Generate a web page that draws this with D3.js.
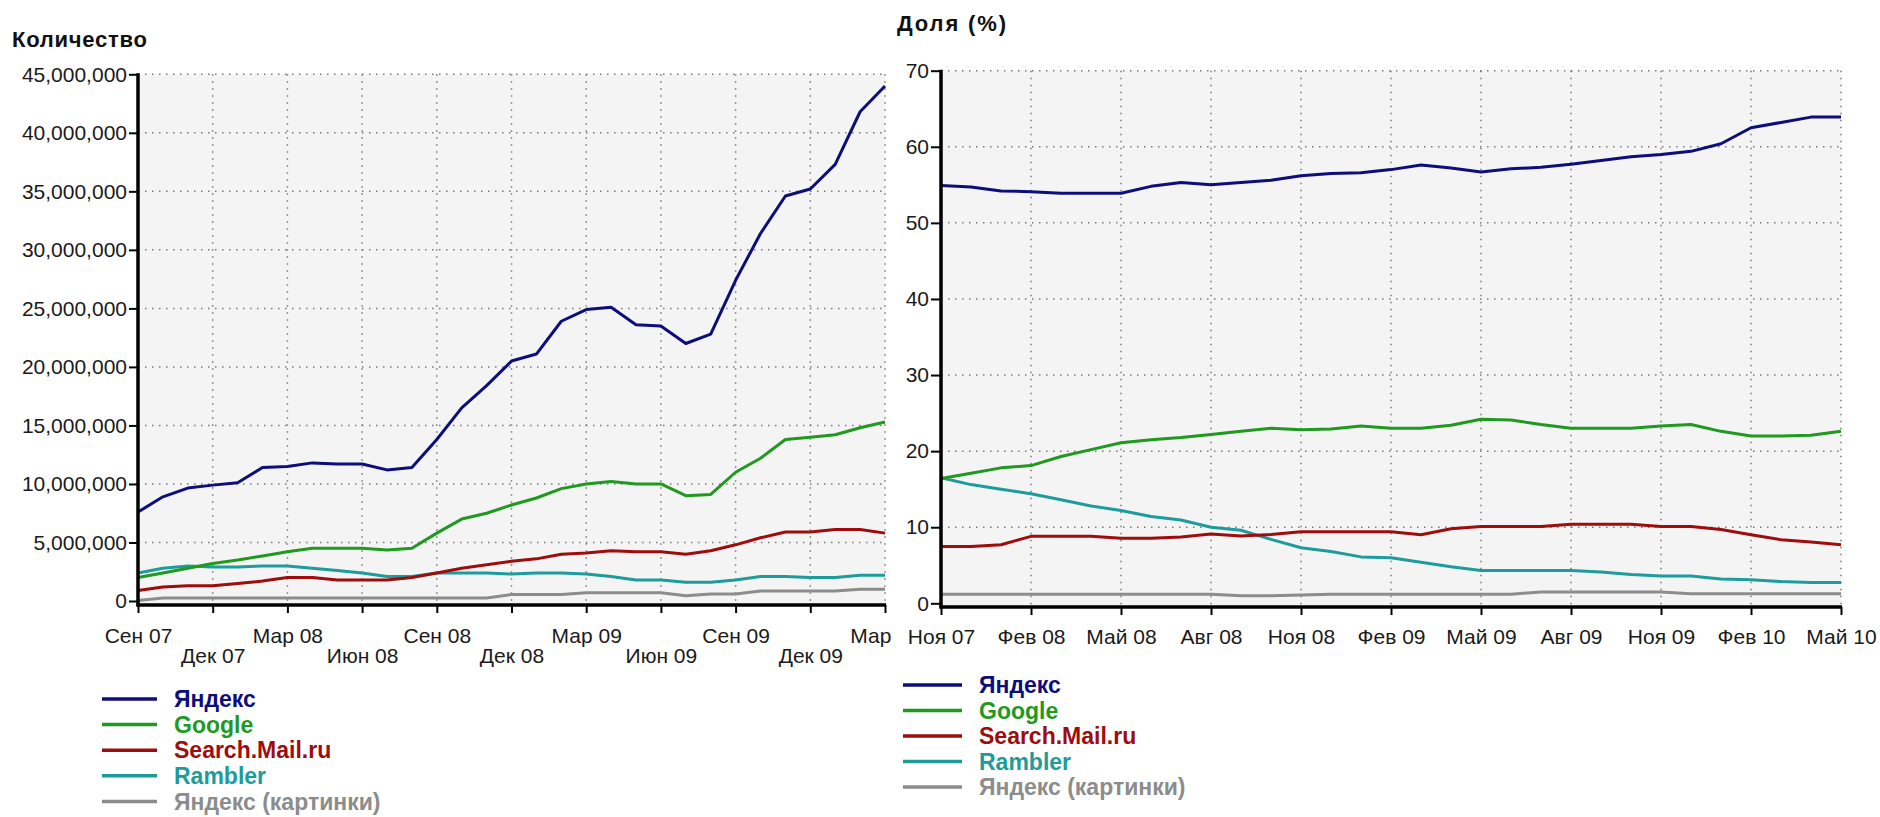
<!DOCTYPE html>
<html>
<head>
<meta charset="utf-8">
<script src="https://cdn.jsdelivr.net/npm/d3@7"></script>
<style>
  html, body { margin: 0; padding: 0; background: #ffffff; }
  svg { display: block; }
  text { font-family: "Liberation Sans", Arial, Helvetica, sans-serif; }
</style>
</head>
<body>
<svg id="chart" width="1880" height="817"></svg>
<script>
// ---------------- DATA ----------------
// Left chart: monthly counts, Sep 2007 – Mar 2010
const leftMonths = ["2007-09","2007-10","2007-11","2007-12","2008-01","2008-02","2008-03","2008-04","2008-05","2008-06","2008-07","2008-08","2008-09","2008-10","2008-11","2008-12","2009-01","2009-02","2009-03","2009-04","2009-05","2009-06","2009-07","2009-08","2009-09","2009-10","2009-11","2009-12","2010-01","2010-02","2010-03"];
const leftYandex  = [7600000,8900000,9650000,9900000,10100000,11400000,11500000,11800000,11700000,11700000,11200000,11400000,13800000,16500000,18400000,20500000,21100000,23900000,24900000,25100000,23600000,23500000,22000000,22800000,27400000,31400000,34600000,35200000,37300000,41800000,44000000];
const leftGoogle  = [2000000,2400000,2800000,3200000,3500000,3850000,4200000,4500000,4500000,4500000,4350000,4500000,5800000,7000000,7500000,8200000,8800000,9600000,10000000,10200000,10000000,10000000,9000000,9100000,11000000,12200000,13800000,14000000,14200000,14800000,15300000];
const leftMail    = [900000,1200000,1300000,1300000,1500000,1700000,2000000,2000000,1800000,1800000,1800000,2000000,2400000,2800000,3100000,3400000,3600000,4000000,4100000,4300000,4200000,4200000,4000000,4300000,4800000,5400000,5900000,5900000,6100000,6100000,5800000];
const leftRambler = [2400000,2800000,3000000,2900000,2900000,3000000,3000000,2800000,2600000,2400000,2100000,2100000,2400000,2400000,2400000,2300000,2400000,2400000,2300000,2100000,1800000,1800000,1600000,1600000,1800000,2100000,2100000,2000000,2000000,2200000,2200000];
const leftImages  = [50000,250000,250000,250000,250000,250000,250000,250000,250000,250000,250000,250000,250000,250000,250000,550000,550000,550000,700000,700000,700000,700000,450000,600000,600000,850000,850000,850000,850000,1000000,1000000];
const leftXTicks  = ["Сен 07","Дек 07","Мар 08","Июн 08","Сен 08","Дек 08","Мар 09","Июн 09","Сен 09","Дек 09","Мар 10"];
const leftYTicks  = [0,5000000,10000000,15000000,20000000,25000000,30000000,35000000,40000000,45000000];

// Right chart: monthly share (%), Nov 2007 – May 2010
const rightMonths = ["2007-11","2007-12","2008-01","2008-02","2008-03","2008-04","2008-05","2008-06","2008-07","2008-08","2008-09","2008-10","2008-11","2008-12","2009-01","2009-02","2009-03","2009-04","2009-05","2009-06","2009-07","2009-08","2009-09","2009-10","2009-11","2009-12","2010-01","2010-02","2010-03","2010-04","2010-05"];
const rightYandex  = [54.9,54.7,54.2,54.1,53.9,53.9,53.9,54.8,55.3,55.0,55.3,55.6,56.2,56.5,56.6,57.0,57.6,57.2,56.7,57.1,57.3,57.7,58.2,58.7,59.0,59.4,60.4,62.5,63.2,63.9,63.9];
const rightGoogle  = [16.4,17.1,17.8,18.1,19.3,20.2,21.1,21.5,21.8,22.2,22.6,23.0,22.8,22.9,23.3,23.0,23.0,23.4,24.2,24.1,23.5,23.0,23.0,23.0,23.3,23.5,22.6,22.0,22.0,22.1,22.6];
const rightMail    = [7.45,7.45,7.7,8.8,8.8,8.8,8.55,8.55,8.7,9.1,8.85,9.05,9.4,9.4,9.4,9.4,9.0,9.8,10.1,10.1,10.1,10.4,10.4,10.4,10.1,10.1,9.7,9.0,8.35,8.05,7.7];
const rightRambler = [16.5,15.6,15.0,14.4,13.6,12.8,12.2,11.4,10.95,10.0,9.6,8.4,7.3,6.8,6.1,6.0,5.4,4.8,4.3,4.3,4.3,4.3,4.1,3.8,3.6,3.6,3.2,3.1,2.85,2.75,2.75];
const rightImages  = [1.2,1.2,1.2,1.2,1.2,1.2,1.2,1.2,1.2,1.2,1.0,1.0,1.1,1.2,1.2,1.2,1.2,1.2,1.2,1.2,1.5,1.5,1.5,1.5,1.5,1.25,1.25,1.25,1.25,1.25,1.25];
const rightXTicks  = ["Ноя 07","Фев 08","Май 08","Авг 08","Ноя 08","Фев 09","Май 09","Авг 09","Ноя 09","Фев 10","Май 10"];
const rightYTicks  = [0,10,20,30,40,50,60,70];

const seriesNames  = ["Яндекс","Google","Search.Mail.ru","Rambler","Яндекс (картинки)"];
const seriesColors = ["#0d0d7c","#1f991f","#9e0c0c","#1e9c9c","#8c8c8c"];

// ---------------- DRAWING ----------------
const svg = d3.select("#chart");

function drawChart(cfg) {
  const g = svg.append("g");
  const x = d3.scaleLinear().domain([0, cfg.months.length - 1]).range([cfg.x0, cfg.x1]);
  const y = d3.scaleLinear().domain([0, cfg.yMax]).range([cfg.yBottom, cfg.yTop]);

  // plot background
  g.append("rect")
    .attr("x", cfg.x0).attr("y", y(cfg.yMax))
    .attr("width", cfg.x1 - cfg.x0).attr("height", cfg.axisY - y(cfg.yMax))
    .attr("fill", "#f4f4f4");

  const tickIdx = cfg.xTicks.map((d, i) => i * 3);

  // grid
  g.append("g").selectAll("line").data(cfg.yTicks.filter(v => v > 0)).join("line")
    .attr("x1", cfg.x0).attr("x2", cfg.x1)
    .attr("y1", d => y(d)).attr("y2", d => y(d))
    .attr("stroke", "#7a7a7a").attr("stroke-width", 1.5)
    .attr("stroke-dasharray", "1.5,5.5");
  g.append("g").selectAll("line").data(tickIdx.slice(1)).join("line")
    .attr("x1", d => x(d)).attr("x2", d => x(d))
    .attr("y1", y(cfg.yMax)).attr("y2", cfg.axisY)
    .attr("stroke", "#7a7a7a").attr("stroke-width", 1.5)
    .attr("stroke-dasharray", "1.5,5.5");

  // lines
  const line = d3.line().x((d, i) => x(i)).y(d => y(d));
  [4, 3, 2, 1, 0].forEach(si => {
    g.append("path").datum(cfg.series[si])
      .attr("d", line)
      .attr("fill", "none")
      .attr("stroke", seriesColors[si])
      .attr("stroke-width", 3)
      .attr("stroke-linejoin", "round");
  });

  // y axis
  const yAxis = d3.axisLeft(y).tickValues(cfg.yTicks)
    .tickFormat(cfg.yFormat).tickSize(cfg.yTickSize).tickSizeOuter(0).tickPadding(2);
  const ya = g.append("g").attr("transform", `translate(${cfg.x0},0)`).call(yAxis);
  ya.select(".domain").remove();
  ya.selectAll(".tick line").attr("stroke", "#000").attr("stroke-width", 2);
  ya.selectAll(".tick text").attr("font-size", 21).attr("fill", "#1a1a1a")
    .attr("font-family", '"Liberation Sans", Arial, sans-serif');
  g.append("line")
    .attr("x1", cfg.x0).attr("x2", cfg.x0)
    .attr("y1", y(cfg.yMax) - 1).attr("y2", cfg.axisY + 1.5)
    .attr("stroke", "#000").attr("stroke-width", 3.5);

  // x axis
  const xAxis = d3.axisBottom(x).tickValues(tickIdx)
    .tickFormat((d, i) => cfg.xTicks[i]).tickSize(8).tickSizeOuter(0);
  const xa = g.append("g").attr("transform", `translate(0,${cfg.axisY})`).call(xAxis);
  xa.select(".domain").remove();
  xa.selectAll(".tick line").attr("stroke", "#000").attr("stroke-width", 2);
  xa.selectAll(".tick text").attr("font-size", 21).attr("fill", "#1a1a1a")
    .attr("font-family", '"Liberation Sans", Arial, sans-serif')
    .attr("dy", null)
    .attr("y", (d, i) => cfg.twoRows && i % 2 === 1 ? cfg.labelBase2 - cfg.axisY : cfg.labelBase1 - cfg.axisY);

  // labels running past the chart's right border are cut, as in the source image
  if (cfg.cutAt) {
    xa.selectAll(".tick").each(function(d) {
      const t = d3.select(this).select("text");
      const w = t.node().getComputedTextLength();
      const left = x(d) - w / 2;
      if (left + w > cfg.cutAt) {
        let s = t.text();
        t.attr("text-anchor", "start").attr("x", left - x(d));
        while (s.length > 1 && left + t.node().getComputedTextLength() > cfg.cutAt) {
          s = s.slice(0, -1).trimEnd();
          t.text(s);
        }
      }
    });
  }

  g.append("line")
    .attr("x1", cfg.x0 - 1.5).attr("x2", cfg.x1 + 1)
    .attr("y1", cfg.axisY).attr("y2", cfg.axisY)
    .attr("stroke", "#000").attr("stroke-width", 3.5);

  // title
  svg.append("text")
    .attr("x", cfg.titleX).attr("y", cfg.titleY)
    .attr("font-size", 22).attr("font-weight", "bold")
    .attr("textLength", cfg.titleW).attr("lengthAdjust", "spacing")
    .attr("fill", "#111")
    .text(cfg.title);

  // legend
  const lg = svg.append("g");
  seriesNames.forEach((name, i) => {
    const ly = cfg.legendY + i * cfg.legendStep;
    lg.append("line")
      .attr("x1", cfg.legendX).attr("x2", cfg.legendX + cfg.legendLen)
      .attr("y1", ly).attr("y2", ly)
      .attr("stroke", seriesColors[i]).attr("stroke-width", 3.5);
    lg.append("text")
      .attr("x", cfg.legendX + cfg.legendLen + 17).attr("y", ly)
      .attr("dy", "0.36em")
      .attr("font-size", 23).attr("font-weight", "bold")
      .attr("fill", seriesColors[i])
      .text(name);
  });
}

drawChart({
  months: leftMonths,
  series: [leftYandex, leftGoogle, leftMail, leftRambler, leftImages],
  xTicks: leftXTicks, yTicks: leftYTicks, yMax: 45000000,
  yFormat: d3.format(","),
  x0: 138, x1: 885, yTop: 74.3, yBottom: 601, axisY: 605,
  yTickSize: 9,
  twoRows: true, labelBase1: 643, labelBase2: 663,
  cutAt: 895,
  title: "Количество", titleX: 12, titleY: 47, titleW: 135,
  legendX: 102, legendLen: 55, legendY: 699, legendStep: 25.6
});

drawChart({
  months: rightMonths,
  series: [rightYandex, rightGoogle, rightMail, rightRambler, rightImages],
  xTicks: rightXTicks, yTicks: rightYTicks, yMax: 70,
  yFormat: d3.format("d"),
  x0: 941, x1: 1841, yTop: 70.7, yBottom: 603.3, axisY: 607,
  yTickSize: 10,
  twoRows: false, labelBase1: 644, labelBase2: 644,
  cutAt: null,
  title: "Доля (%)", titleX: 897, titleY: 31, titleW: 109,
  legendX: 903, legendLen: 59, legendY: 685, legendStep: 25.5
});
</script>
</body>
</html>
